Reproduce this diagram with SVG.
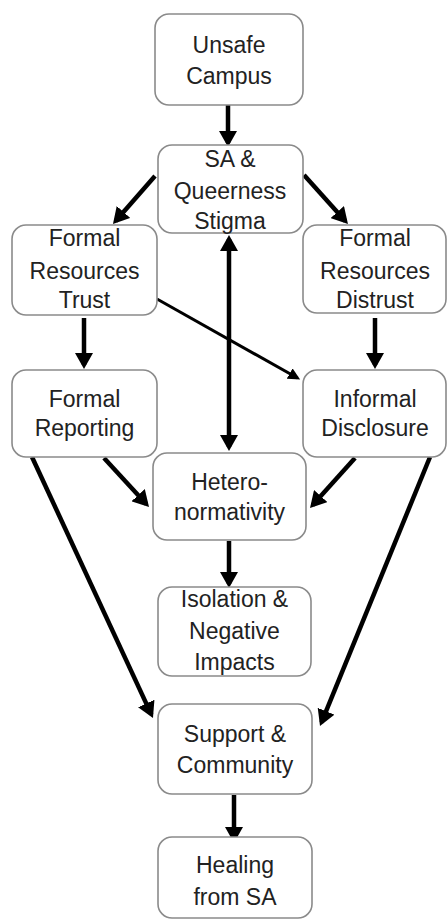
<svg xmlns="http://www.w3.org/2000/svg" width="448" height="923" viewBox="0 0 448 923">
<style>
.box{fill:#fff;stroke:#8a8a8a;stroke-width:1.6}
.t{font-family:"Liberation Sans",Arial,sans-serif;font-size:23px;fill:#222;text-anchor:middle}
.c{stroke:#000;stroke-width:4.5;fill:none;marker-end:url(#ah)}
.thin{stroke:#000;stroke-width:3;fill:none;marker-end:url(#ahs)}
</style>
<defs>
<marker id="ah" markerUnits="userSpaceOnUse" markerWidth="17" markerHeight="18" refX="12" refY="9" orient="auto-start-reverse" viewBox="0 0 17 18"><path d="M0,0 L16,9 L0,18 z" fill="#000"/></marker>
<marker id="ahs" markerUnits="userSpaceOnUse" markerWidth="13" markerHeight="12" refX="9" refY="6" orient="auto" viewBox="0 0 13 12"><path d="M0,0 L12,6 L0,12 z" fill="#000"/></marker>
</defs>
<rect width="448" height="923" fill="#fff"/>
<g id="connectors">
<line class="c" x1="228" y1="100" x2="228" y2="143"/>
<line class="c" x1="155" y1="176" x2="115.6" y2="221"/>
<line class="c" x1="304" y1="175" x2="345.3" y2="221"/>
<line class="c" x1="229" y1="239" x2="229" y2="447" marker-start="url(#ah)"/>
<line class="c" x1="84" y1="318" x2="84" y2="365"/>
<line class="c" x1="375" y1="318" x2="375" y2="365"/>
<line class="thin" x1="157" y1="299" x2="297.5" y2="378"/>
<line class="c" x1="104" y1="458" x2="146.3" y2="504"/>
<line class="c" x1="355" y1="458" x2="312.7" y2="505"/>
<line class="c" x1="229" y1="541" x2="229" y2="584"/>
<line class="c" x1="32" y1="457" x2="151.3" y2="714.4"/>
<line class="c" x1="430" y1="457" x2="321.5" y2="722.3"/>
<line class="c" x1="234" y1="795" x2="234" y2="839"/>
</g>
<g id="unsafe-campus"><rect class="box" x="155" y="14" width="148" height="91" rx="14"/><text class="t" x="229" y="53">Unsafe</text><text class="t" x="229" y="84">Campus</text></g>
<g id="sa-stigma"><rect class="box" x="158" y="145" width="145" height="88" rx="14"/><text class="t" x="230" y="167">SA &amp;</text><text class="t" x="230" y="199">Queerness</text><text class="t" x="230" y="229">Stigma</text></g>
<g id="trust"><rect class="box" x="12" y="225" width="145" height="90" rx="14"/><text class="t" x="84.5" y="246">Formal</text><text class="t" x="84.5" y="279">Resources</text><text class="t" x="84.5" y="308">Trust</text></g>
<g id="distrust"><rect class="box" x="303" y="225" width="143" height="88" rx="14"/><text class="t" x="375" y="246">Formal</text><text class="t" x="375" y="279">Resources</text><text class="t" x="375" y="308">Distrust</text></g>
<g id="formal-reporting"><rect class="box" x="12" y="370" width="145" height="87" rx="14"/><text class="t" x="84.5" y="407">Formal</text><text class="t" x="84.5" y="436">Reporting</text></g>
<g id="informal-disclosure"><rect class="box" x="303" y="370" width="143" height="87" rx="14"/><text class="t" x="375" y="407">Informal</text><text class="t" x="375" y="436">Disclosure</text></g>
<g id="heteronormativity"><rect class="box" x="153" y="453" width="153" height="87" rx="14"/><text class="t" x="229.5" y="490">Hetero-</text><text class="t" x="229.5" y="520">normativity</text></g>
<g id="isolation"><rect class="box" x="158" y="587" width="153" height="89" rx="14"/><text class="t" x="234.5" y="607">Isolation &amp;</text><text class="t" x="234.5" y="639">Negative</text><text class="t" x="234.5" y="670">Impacts</text></g>
<g id="support"><rect class="box" x="158" y="704" width="154" height="90" rx="14"/><text class="t" x="235" y="742">Support &amp;</text><text class="t" x="235" y="773">Community</text></g>
<g id="healing"><rect class="box" x="158" y="837" width="154" height="81" rx="14"/><text class="t" x="235" y="873">Healing</text><text class="t" x="235" y="905">from SA</text></g>
</svg>
